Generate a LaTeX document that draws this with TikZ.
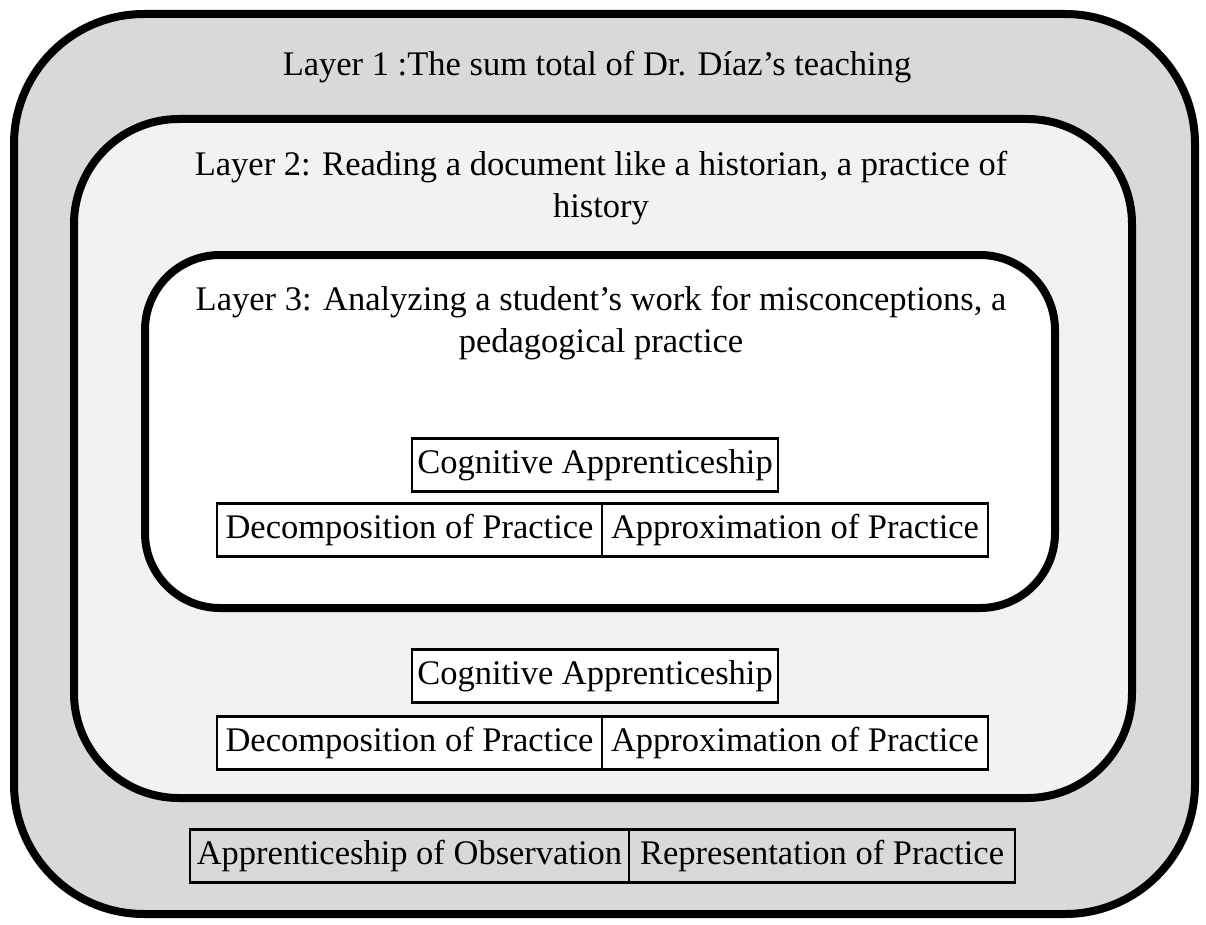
\documentclass[tikz,border=0pt]{standalone}
\usepackage{fontspec}
\setmainfont{Liberation Serif}
\usepackage{xcolor}
\usepackage{tikz}
\usetikzlibrary{calc, positioning}

\definecolor{grayA}{HTML}{D9D9D9}
\definecolor{grayB}{HTML}{F2F2F2}

\begin{document}
\begin{tikzpicture}[x=1pt, y=-1pt,
    layer/.style={line width=8pt, draw=black},
    cell/.style={draw, line width=2.5pt, inner sep=0pt, minimum height=53pt,
        font=\fontsize{34.5}{40}\selectfont},
    title/.style={align=center, font=\fontsize{34.5}{42}\selectfont}]
    \useasboundingbox (0,0) rectangle (1206,925);

    % 1. Các lớp
    \draw[layer, fill=grayA, rounded corners=130pt] (14,14) rectangle (1195,914);
    \draw[layer, fill=grayB, rounded corners=105pt] (74,119) rectangle (1132,798);
    \draw[layer, fill=white, rounded corners=75pt] (145,255) rectangle (1055,608);

    % 2. Tiêu đề
    \node[title] (t1) at (597,67) {Layer 1 :The sum total of Dr. Díaz’s teaching};
    \node[title] (t2) at (601,188) {Layer 2: Reading a document like a historian, a practice of\\history};
    \node[title] (t3) at (601,323) {Layer 3: Analyzing a student’s work for misconceptions, a\\pedagogical practice};

    % 3. Lớp 3
    \node[cell, fill=white, minimum width=366pt] (ca3) at (595,465) {Cognitive Apprenticeship};
    \node[cell, fill=white, minimum width=385pt] (dp3) at (409.5,530) {Decomposition of Practice};
    \node[cell, fill=white, minimum width=386pt, right=-2.5pt of dp3] (ap3) {Approximation of Practice};

    % 4. Lớp 2
    \node[cell, fill=white, minimum width=366pt] (ca2) at (595,676) {Cognitive Apprenticeship};
    \node[cell, fill=white, minimum width=385pt] (dp2) at (409.5,743) {Decomposition of Practice};
    \node[cell, fill=white, minimum width=386pt, right=-2.5pt of dp2] (ap2) {Approximation of Practice};

    % 5. Lớp 1
    \node[cell, fill=grayA, minimum width=439pt] (ao1) at (409.5,856) {Apprenticeship of Observation};
    \node[cell, fill=grayA, minimum width=386pt, right=-2.5pt of ao1] (rp1) {Representation of Practice};
\end{tikzpicture}
\end{document}
